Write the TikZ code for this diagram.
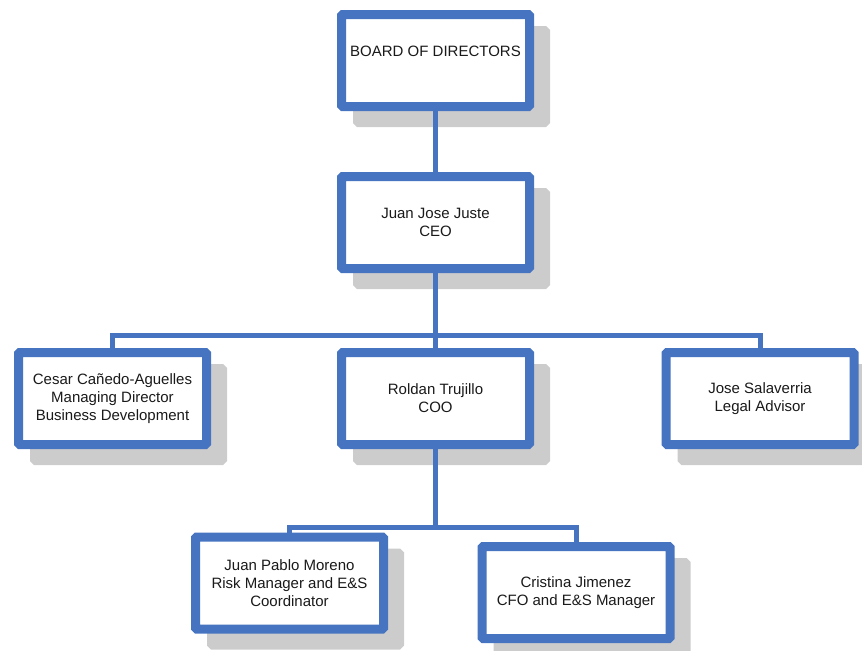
\documentclass[tikz,border=0pt]{standalone}
\usepackage{fontspec}
\setmainfont{Liberation Sans}
\usetikzlibrary{shadows}

\definecolor{boxblue}{RGB}{70,116,192}
\definecolor{shadegray}{RGB}{204,204,204}
\definecolor{inkgray}{RGB}{26,26,26}

\tikzset{
  post/.style={draw=boxblue, line width=6.75pt, fill=white, rounded corners=1pt,
    minimum width=141pt, minimum height=69pt, inner sep=2pt,
    align=center, text=inkgray, font=\fontsize{11.25}{13.5}\selectfont,
    drop shadow={shadow xshift=12pt, shadow yshift=-12pt, opacity=1,
      fill=shadegray, draw=shadegray}},
  link/.style={draw=boxblue, line width=3.75pt}
}

\begin{document}
\begin{tikzpicture}[x=0.75pt, y=-0.75pt]
  \useasboundingbox (0,0) rectangle (862,650);

  \node[post] (board) at (435.5,60.5) {BOARD OF DIRECTORS\\~};
  \node[post] (ceo) at (435.5,222.5) {Juan Jose Juste\\CEO};

  \node[post] (cesar) at (112.5,398.5) {Cesar Cañedo-Aguelles\\Managing Director\\Business Development};
  \node[post] (coo) at (435.5,398.5) {Roldan Trujillo\\COO};
  \node[post] (jose) at (760,398.5) {Jose Salaverria\\Legal Advisor};

  \node[post] (risk) at (289.5,583) {Juan Pablo Moreno\\Risk Manager and E\&S\\Coordinator};
  \node[post] (cfo) at (576,592.5) {Cristina Jimenez\\CFO and E\&S Manager};

  \coordinate (bus) at (435.5,335.5);
  \coordinate (subbus) at (435.5,527);

  \draw[link] (board.south) -- (ceo.north);
  \draw[link] (ceo.south) -- (bus);
  \draw[link] (cesar.north) |- (bus) -| (jose.north);
  \draw[link] (bus) -- (coo.north);
  \draw[link] (coo.south) -- (subbus);
  \draw[link] (risk.north) |- (subbus) -| (cfo.north);
\end{tikzpicture}
\end{document}
